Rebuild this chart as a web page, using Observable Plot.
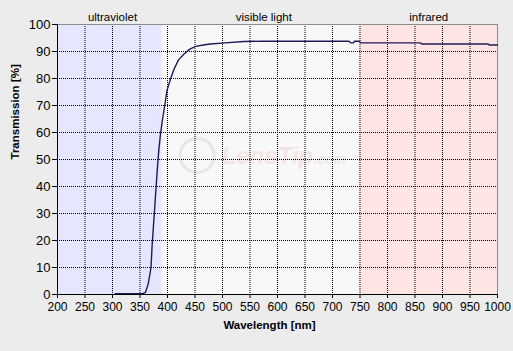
<!DOCTYPE html>
<html>
<head>
<meta charset="utf-8">
<script src="https://cdn.jsdelivr.net/npm/d3@7"></script>
<script src="https://cdn.jsdelivr.net/npm/@observablehq/plot@0.6"></script>
<style>
  html, body { margin: 0; padding: 0; background: #ECECEC; }
</style>
</head>
<body>
<div id="chart"></div>
<script>
const wavelengths = [305, 355, 360, 365, 368, 370, 372, 375, 378, 381, 384, 387, 391, 395, 399, 405, 412, 420, 430, 440, 451, 465, 478, 505, 539, 570, 730, 733, 738, 740, 748, 752, 860, 862, 983, 985, 1000];
const transmission = [0.3, 0.3, 0.8, 4, 7.5, 10, 18, 27, 36, 45, 53, 59, 65, 70, 75.5, 79.5, 83.5, 86.9, 89.1, 90.8, 91.9, 92.4, 92.8, 93.2, 93.7, 93.8, 93.8, 93.2, 93.2, 93.8, 93.8, 93.2, 93.2, 92.8, 92.8, 92.4, 92.4];

const regionNames = ["ultraviolet", "visible light", "infrared"];
const regionStart = [200, 390, 750];
const regionEnd = [390, 750, 1000];
const regionLabelAt = [300, 575, 875];

const xTicks = [200, 250, 300, 350, 400, 450, 500, 550, 600, 650, 700, 750, 800, 850, 900, 950, 1000];
const yTicks = [0, 10, 20, 30, 40, 50, 60, 70, 80, 90, 100];

const xTitle = "Wavelength [nm]";
const yTitle = "Transmission [%]";
const watermarkName = "LensTip";
const watermarkSuffix = ".com";
const watermarkJoinX = 665;
const watermarkY = 51;
const logoX = 454;
const logoY = 51.5;

const curve = wavelengths.map((w, i) => ({w, t: transmission[i]}));
const regions = regionNames.map((name, i) => ({name, start: regionStart[i], end: regionEnd[i], mid: regionLabelAt[i]}));

const chart = Plot.plot({
  width: 513,
  height: 351,
  marginLeft: 57,
  marginRight: 16,
  marginTop: 24,
  marginBottom: 57,
  style: {background: "#ECECEC", fontFamily: "'Liberation Sans', Arial, sans-serif", fontSize: "12px", color: "black"},
  x: {domain: [200, 1000]},
  y: {domain: [0, 100]},
  color: {domain: regionNames, range: ["#E6E6FF", "#F8F8F8", "#FFE4E4"]},
  marks: [
    Plot.rect(regions, {x1: "start", x2: "end", y1: () => 0, y2: () => 100, fill: "name"}),
    Plot.dot([{x: logoX, y: logoY}], {x: "x", y: "y", r: 17, stroke: "#E9E6E6", strokeWidth: 3, fill: "none"}),
    Plot.text([watermarkName], {x: () => watermarkJoinX, y: () => watermarkY, textAnchor: "end", fontSize: 24, fontWeight: "bold", fontStyle: "italic", fill: "#F6E4E4"}),
    Plot.text([watermarkSuffix], {x: () => watermarkJoinX, y: () => watermarkY, dy: 3, textAnchor: "start", fontSize: 14, fontWeight: "bold", fontStyle: "italic", fill: "#E9E9E9"}),
    Plot.gridX(xTicks.slice(1, -1), {stroke: "black", strokeOpacity: 1, strokeDasharray: "1,1"}),
    Plot.gridY(yTicks.slice(1, -1), {stroke: "black", strokeOpacity: 1, strokeDasharray: "1,1"}),
    Plot.ruleY([100], {stroke: "#8c8c8c"}),
    Plot.ruleX([1000], {stroke: "#8c8c8c"}),
    Plot.line(curve, {x: "w", y: "t", stroke: "#1e1a5a", strokeWidth: 1.4}),
    Plot.ruleY([0], {stroke: "black"}),
    Plot.ruleX([200], {stroke: "black"}),
    Plot.axisX({ticks: xTicks, tickSize: 4, tickPadding: 4, label: null, tickFormat: d => String(d)}),
    Plot.axisY({ticks: yTicks, tickSize: 5, tickPadding: 2, label: null, fontSize: 13, tickFormat: d => String(d)}),
    Plot.text([xTitle], {frameAnchor: "bottom", dy: 34, dx: -8, fontWeight: "bold", fontSize: 11.5}),
    Plot.text([yTitle], {frameAnchor: "left", dx: -42, rotate: -90, fontWeight: "bold", fontSize: 11.5}),
    Plot.text(regions, {x: "mid", frameAnchor: "top", dy: -12, text: "name", fontSize: 11.5})
  ]
});
document.getElementById("chart").appendChild(chart);
</script>
</body>
</html>
